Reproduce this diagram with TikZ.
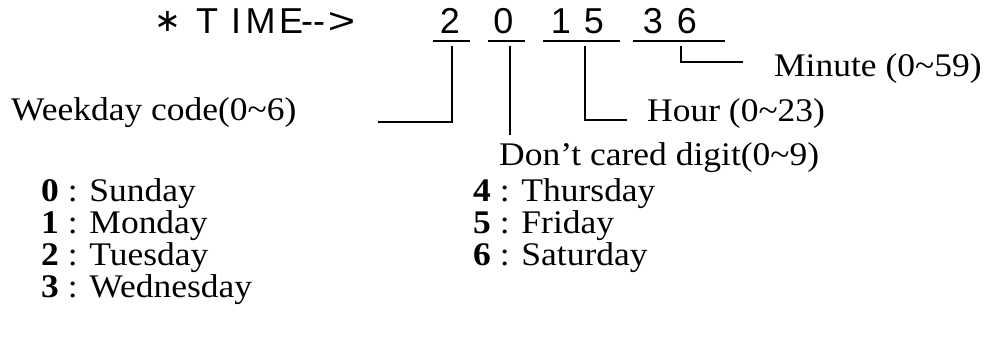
\documentclass[tikz,border=0pt]{standalone}
\usepackage{fontspec}
\setmainfont{Liberation Serif}[FakeStretch=1.075]
\newfontfamily\ttlfont{Liberation Sans}
\newfontfamily\symfont{DejaVu Sans}
\begin{document}
\begin{tikzpicture}[x=1pt,y=-1pt,
  lbl/.style={anchor=base west,inner sep=0pt,font=\fontsize{33}{33}\selectfont},
  ttl/.style={anchor=base west,inner sep=0pt,font=\ttlfont\fontsize{36}{36}\selectfont},
  dig/.style={anchor=base,inner sep=0pt,font=\ttlfont\fontsize{36}{36}\selectfont},
  rule/.style={line width=2.6pt},
  conn/.style={line width=2.8pt}]
\useasboundingbox (0,0) rectangle (985,345);
% title
\node[anchor=center,inner sep=0pt,font=\symfont\fontsize{32}{32}\selectfont] (star) at (168,21) {∗};
\node[ttl] (tT) at (196,34) {T};
\node[ttl] (tI) at (231,34) {I};
\node[ttl] (tM) at (245.5,34) {M};
\node[ttl] (tE) at (279,34) {E};
\node[ttl] (tH) at (301,34) {-\kern0pt-};
\node[ttl,xscale=1.3] (tG) at (327.6,34) {>};
% digits
\node[dig] (d2) at (450,34) {2};
\node[dig] (d0) at (503.5,34) {0};
\node[dig] (d1) at (561,34) {1};
\node[dig] (d5) at (594,34) {5};
\node[dig] (d3) at (653,34) {3};
\node[dig] (d6) at (687,34) {6};
% underlines
\coordinate (u2a) at (433,41); \coordinate (u2b) at (470,41);
\coordinate (u0a) at (488,41); \coordinate (u0b) at (525,41);
\coordinate (u1a) at (543,41); \coordinate (u1b) at (620,41);
\coordinate (u3a) at (633,41); \coordinate (u3b) at (725,41);
\draw[rule] (u2a) -- (u2b);
\draw[rule] (u0a) -- (u0b);
\draw[rule] (u1a) -- (u1b);
\draw[rule] (u3a) -- (u3b);
% labels
\node[lbl] (wk) at (11,120) {Weekday code(0\textasciitilde 6)};
\node[lbl] (mi) at (774,77) {Minute (0\textasciitilde 59)};
\node[lbl] (ho) at (647,121) {Hour (0\textasciitilde 23)};
\node[lbl] (dc) at (499,165) {Don’t cared digit(0\textasciitilde 9)};
% connectors
\coordinate (c2t) at (452,46); \coordinate (c2c) at (452,122); \coordinate (c2e) at (378,122);
\coordinate (c0t) at (510,46); \coordinate (c0e) at (510,135);
\coordinate (c1t) at (585,46); \coordinate (c1c) at (585,120); \coordinate (c1e) at (627,120);
\coordinate (c3t) at (681,46); \coordinate (c3c) at (681,62); \coordinate (c3e) at (743,62);
\draw[conn] (c2t) -- (c2c) -- (c2e);
\draw[conn] (c0t) -- (c0e);
\draw[conn] (c1t) -- (c1c) -- (c1e);
\draw[conn] (c3t) -- (c3c) -- (c3e);
% list
\node[lbl] (l0) at (41,201) {\textbf{0} : Sunday};
\node[lbl] (l1) at (41,233) {\textbf{1} : Monday};
\node[lbl] (l2) at (41,265) {\textbf{2} : Tuesday};
\node[lbl] (l3) at (41,297) {\textbf{3} : Wednesday};
\node[lbl] (l4) at (473,201) {\textbf{4} : Thursday};
\node[lbl] (l5) at (473,233) {\textbf{5} : Friday};
\node[lbl] (l6) at (473,265) {\textbf{6} : Saturday};
\end{tikzpicture}
\end{document}
